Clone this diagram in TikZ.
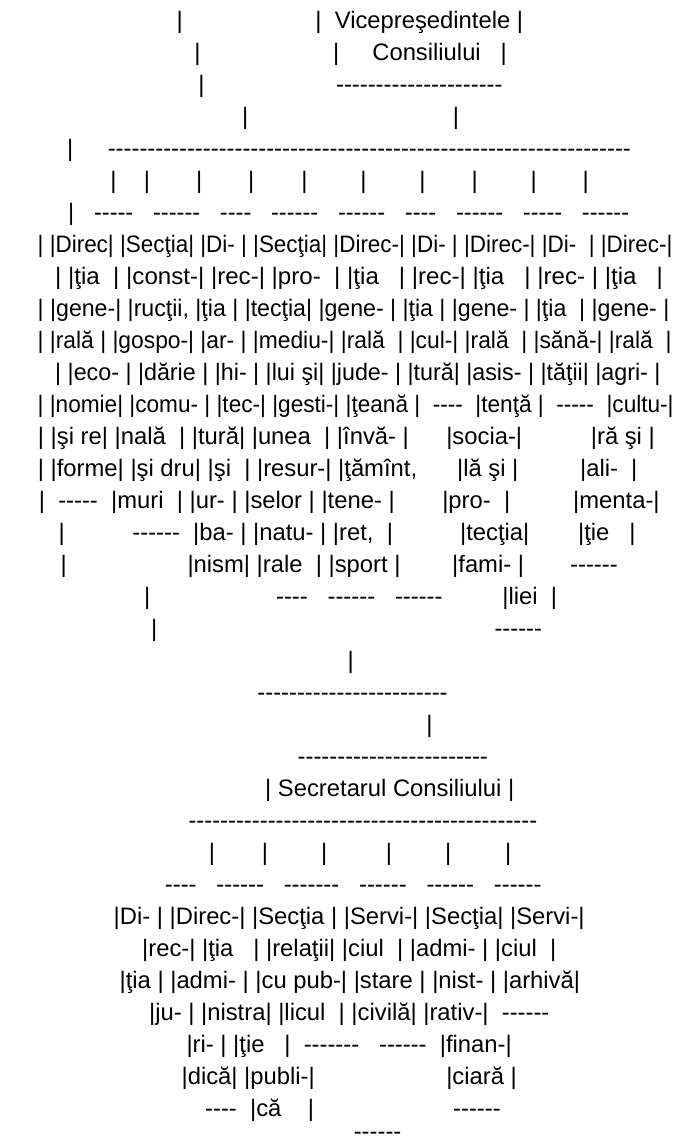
\documentclass[tikz,border=0pt]{standalone}
\usepackage{fontspec}
\usepackage{graphicx}
\setmainfont{Liberation Sans}[Ligatures={TeXOff,CommonOff}]

\newsavebox\rowbox
\newlength\rowlen
% one printed row, stretched to lie between x1 and x2
\newcommand\fitrow[5]{% name, y, x1, x2, text
  \node[txt] (#1) at (#3,#2) {\sbox\rowbox{#5}\setlength\rowlen{\wd\rowbox}%
    \pgfmathsetmacro\rowfac{(#4-#3)/\rowlen}\scalebox{\rowfac}[1]{\usebox\rowbox}};}

\tikzset{
  txt/.style={anchor=base west,inner sep=0pt},
  bar/.style={anchor=base,inner sep=0pt},
}

\begin{document}
\begin{tikzpicture}[x=1pt,y=1pt,font=\fontsize{23.8}{28}\selectfont]
    \useasboundingbox (0,0) rectangle (689,-1144);
    % vicepresedinte
    \node[txt] (r1a) at (176.5,-28.5) {|};
    \node[txt] (r1b) at (315.2,-28.5) {|~~Vicepreşedintele |};
    \node[txt] (r2a) at (194.2,-60.5) {|};
    \node[txt] (r2b) at (332.9,-60.5) {|~~~~~Consiliului~~~|};
    \node[txt] (r3a) at (198.1,-92.5) {|};
    \node[txt] (r3b) at (335.9,-92.5) {---------------------};
    \node[bar] (r4a) at (245.3,-124.5) {|};
    \node[bar] (r4b) at (455.9,-124.5) {|};
    \node[bar] (r5a) at (70.2,-156.5) {|};
    \node[txt] (r5b) at (107.6,-156.5) {------------------------------------------------------------------};
    \foreach \x [count=\k] in {113.5,147,199.1,251.3,304.4,363.4,422.5,474.6,533.7,585.8}
        \node[bar] (r6-\k) at (\x,-188.5) {|};
    \fitrow{r7}{-220.5}{68}{629}{|~~~-----~~~------~~~----~~~------~~~------~~~----~~~------~~~-----~~~------}
    % directii
    \fitrow{r8}{-252.5}{37.5}{672.2}{| |Direc| |Secţia| |Di-~| |Secţia| |Direc-| |Di-~| |Direc-| |Di-~~| |Direc-|}
    \fitrow{r9}{-284.5}{55}{662.6}{| |ţia~~| |const-| |rec-| |pro-~~| |ţia~~~| |rec-| |ţia~~~| |rec-~| |ţia~~~|}
    \fitrow{r10}{-316.5}{37.5}{669.1}{| |gene-| |rucţii, |ţia~| |tecţia| |gene-~| |ţia~| |gene-~| |ţia~~| |gene-~|}
    \fitrow{r11}{-348.5}{37.5}{671.3}{| |rală~| |gospo-| |ar-~| |mediu-| |rală~~| |cul-| |rală~~| |sănă-| |rală~~|}
    \fitrow{r12}{-380.5}{55}{660.3}{| |eco-~| |dărie~| |hi-~| |lui şi| |jude-~| |tură| |asis-~| |tăţii| |agri-~|}
    \fitrow{r13}{-412.5}{37.5}{673.4}{| |nomie| |comu-~| |tec-| |gesti-| |ţeană~|~~----~~|tenţă~|~~-----~~|cultu-|}
    \node[txt] (r14a) at (37.7,-444.5) {| |şi re| |nală~~| |tură| |unea~~| |învă-~|};
    \node[txt] (r14b) at (446.1,-444.5) {|socia-|};
    \node[txt] (r14c) at (590.7,-444.5) {|ră şi~|};
    \node[txt] (r15a) at (37.7,-476.5) {| |forme| |şi dru| |şi~~| |resur-| |ţămînt,};
    \node[txt] (r15b) at (456.9,-476.5) {|lă şi~|};
    \node[txt] (r15c) at (579.9,-476.5) {|ali-~~|};
    \node[txt] (r16a) at (38.7,-508.5) {|~~-----~~|muri~~| |ur-~| |selor~| |tene-~|};
    \node[txt] (r16b) at (442.1,-508.5) {|pro-~~|};
    \node[txt] (r16c) at (573,-508.5) {|menta-|};
    \node[txt] (r17a) at (58.4,-540.5) {|};
    \node[txt] (r17b) at (132.2,-540.5) {------~~|ba-~| |natu-~| |ret,~~|};
    \node[txt] (r17c) at (459.9,-540.5) {|tecţia|};
    \node[txt] (r17d) at (577.9,-540.5) {|ţie~~~|};
    \node[txt] (r18a) at (60.4,-572.5) {|};
    \node[txt] (r18b) at (187.3,-572.5) {|nism| |rale~~| |sport~|};
    \node[txt] (r18c) at (452,-572.5) {|fami-~|};
    \node[txt] (r18d) at (570,-572.5) {------};
    \node[txt] (r19a) at (144,-604.5) {|};
    \node[txt] (r19b) at (275.9,-604.5) {----~~~------~~~------};
    \node[txt] (r19c) at (502.2,-604.5) {|liei~~|};
    \node[txt] (r20a) at (150.9,-636.5) {|};
    \node[txt] (r20b) at (494.3,-636.5) {------};
    \node[bar] (r21) at (350.6,-668.5) {|};
    % secretar
    \node[txt] (r22) at (257.2,-700.5) {------------------------};
    \node[bar] (r23) at (429.4,-732.5) {|};
    \node[txt] (r24) at (297.5,-764.5) {------------------------};
    \node[txt] (r25) at (265,-796.5) {| Secretarul Consiliului |};
    \node[txt] (r26) at (188.3,-828.5) {--------------------------------------------};
    \foreach \x [count=\k] in {211.9,265,324.1,389,448.1,508.1}
        \node[bar] (r27-\k) at (\x,-860.5) {|};
    \node[txt] (r28) at (164.7,-892.5) {----~~~------~~~-------~~~------~~~------~~~------};
    \node[txt] (r29) at (113.5,-924.5) {|Di-~| |Direc-| |Secţia~| |Servi-| |Secţia| |Servi-|};
    \node[txt] (r30) at (142,-956.5) {|rec-| |ţia~~~| |relaţii| |ciul~~| |admi-~| |ciul~~|};
    \node[txt] (r31) at (119.4,-988.5) {|ţia~| |admi-~| |cu pub-| |stare~| |nist-~| |arhivă|};
    \node[txt] (r32) at (148.9,-1020.5) {|ju-~| |nistra| |licul~~| |civilă| |rativ-|~~------};
    \node[txt] (r33) at (186.3,-1052.5) {|ri-~| |ţie~~~|~~-------~~~------~~|finan-|};
    \node[txt] (r34a) at (181.4,-1084.5) {|dică| |publi-|};
    \node[txt] (r34b) at (446.1,-1084.5) {|ciară~|};
    \node[txt] (r35a) at (205,-1116.5) {----~~|că~~~~|};
    \node[txt] (r35b) at (453,-1116.5) {------};
    \node[txt] (r36) at (353.6,-1139.5) {------};
\end{tikzpicture}
\end{document}
